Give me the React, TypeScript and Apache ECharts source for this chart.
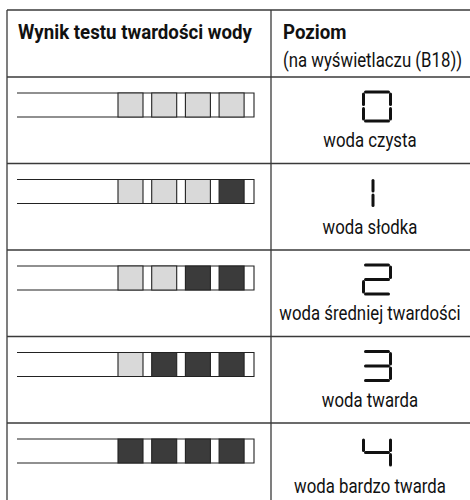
import React, { useEffect, useRef } from "react";
import * as echarts from "echarts";

// ---- data ----
const headerLeft = "Wynik testu twardości wody";
const headerRight = "Poziom";
const headerRightSub = "(na wyświetlaczu (B18))";
const levels = [0, 1, 2, 3, 4];
const descriptions = [
  "woda czysta",
  "woda słodka",
  "woda średniej twardości",
  "woda twarda",
  "woda bardzo twarda",
];
const darkPads = [0, 1, 2, 3, 4];
const padCount = 4;
const segmentCodes = ["abcdef", "bc", "abged", "abgcd", "fgbc"];

// ---- layout ----
const W = 470;
const H = 500;
const FONT = "Roboto, 'Noto Sans', sans-serif";
const SCALE_REG = 0.84;
const SCALE_BOLD = 0.89;
const LINE = "#3a3a3a";
const TABLE_LEFT = 7;
const COL_X = 271;
const TABLE_TOP = 10;
const HEADER_BOTTOM = 77;
const ROW_H = 86.5;
const STRIP_LEFT = 17;
const STRIP_RIGHT = 254;
const STRIP_OFF = 16;
const STRIP_H = 24;
const PAD_START = 118;
const PAD_PITCH = 33.7;
const PAD_W = 25;
const DIGIT_CX = 377;
const DIGIT_W = 27;
const DIGIT_H = 29;
const DIGIT_OFF = 15;
const TEXT_CX = 370;
const TEXT_OFF = 64;

export default function App() {
  const ref = useRef<HTMLDivElement>(null);
  useEffect(() => {
    document.body.style.margin = "0";
    const chart = echarts.init(ref.current!, null, { renderer: "svg" });

    const renderItem = (params: any, api: any) => {
      const idx = api.value(0);
      const level = api.value(1);
      const dark = api.value(2);
      const rowTop = HEADER_BOTTOM + idx * ROW_H;
      const c = (x: number, y: number) => api.coord([x, y]);
      const children: any[] = [];
      const p1 = c(TABLE_LEFT, rowTop);
      const p2 = c(W, rowTop);
      children.push({
        type: "line",
        shape: { x1: p1[0], y1: p1[1], x2: p2[0], y2: p2[1] },
        style: { stroke: LINE, lineWidth: 1.3 },
      });
      const sTop = c(STRIP_LEFT, rowTop + STRIP_OFF);
      const sBot = c(STRIP_RIGHT, rowTop + STRIP_OFF + STRIP_H);
      children.push({
        type: "polyline",
        shape: {
          points: [
            [sTop[0], sTop[1]],
            [sBot[0], sTop[1]],
            [sBot[0], sBot[1]],
            [sTop[0], sBot[1]],
          ],
        },
        style: { stroke: "#222", lineWidth: 1.1, fill: "none" },
      });
      for (let k = 0; k < padCount; k++) {
        const isDark = k >= padCount - dark;
        const a = c(PAD_START + k * PAD_PITCH, rowTop + STRIP_OFF);
        const sz = api.size([PAD_W, STRIP_H]);
        children.push({
          type: "rect",
          shape: { x: a[0], y: a[1], width: sz[0], height: sz[1] },
          style: {
            fill: isDark ? "#3b3b3b" : "#d9d9d9",
            stroke: "#222",
            lineWidth: 1.1,
          },
        });
      }
      const code = segmentCodes[level];
      let L = DIGIT_CX - DIGIT_W / 2;
      let R = DIGIT_CX + DIGIT_W / 2;
      if (code === "bc") {
        R = DIGIT_CX - 4;
        L = R - DIGIT_W;
      }
      const T = rowTop + DIGIT_OFF;
      const B = T + DIGIT_H;
      const M = (T + B) / 2;
      const g = 2;
      const segs: Record<string, number[]> = {
        a: [L + g, T, R - g, T],
        b: [R, T + g, R, M - g],
        c: [R, M + g, R, B - g],
        d: [L + g, B, R - g, B],
        e: [L, M + g, L, B - g],
        f: [L, T + g, L, M - g],
        g: [L + g, M, R - g, M],
      };
      for (const s of code.split("")) {
        const q = segs[s];
        const u = c(q[0], q[1]);
        const v = c(q[2], q[3]);
        children.push({
          type: "line",
          shape: { x1: u[0], y1: u[1], x2: v[0], y2: v[1] },
          style: { stroke: "#111", lineWidth: 3, lineCap: "round" },
        });
      }
      const tp = c(TEXT_CX, rowTop + TEXT_OFF);
      children.push({
        type: "text",
        x: tp[0],
        y: tp[1],
        scaleX: SCALE_REG,
        style: {
          text: descriptions[idx],
          fill: "#111",
          fontSize: 20,
          fontFamily: FONT,
          align: "center",
          verticalAlign: "middle",
        },
      });
      return { type: "group", children };
    };

    chart.setOption({
      animation: false,
      grid: { left: 0, right: 0, top: 0, bottom: 0 },
      xAxis: { type: "value", min: 0, max: W, show: false },
      yAxis: { type: "value", min: 0, max: H, inverse: true, show: false },
      graphic: [
        {
          type: "line",
          shape: { x1: TABLE_LEFT, y1: TABLE_TOP, x2: W, y2: TABLE_TOP },
          style: { stroke: LINE, lineWidth: 1.3 },
        },
        {
          type: "line",
          shape: { x1: TABLE_LEFT, y1: TABLE_TOP, x2: TABLE_LEFT, y2: H },
          style: { stroke: LINE, lineWidth: 1.3 },
        },
        {
          type: "line",
          shape: { x1: COL_X, y1: TABLE_TOP, x2: COL_X, y2: H },
          style: { stroke: LINE, lineWidth: 1.3 },
        },
        {
          type: "text",
          x: 18,
          y: 32,
          scaleX: SCALE_BOLD,
          style: {
            text: headerLeft,
            fill: "#111",
            fontSize: 21,
            fontWeight: "bold",
            fontFamily: FONT,
            align: "left",
            verticalAlign: "middle",
          },
        },
        {
          type: "text",
          x: 283,
          y: 32,
          scaleX: SCALE_BOLD,
          style: {
            text: headerRight,
            fill: "#111",
            fontSize: 21,
            fontWeight: "bold",
            fontFamily: FONT,
            align: "left",
            verticalAlign: "middle",
          },
        },
        {
          type: "text",
          x: 283,
          y: 61,
          scaleX: SCALE_REG,
          style: {
            text: headerRightSub,
            fill: "#111",
            fontSize: 20,
            fontFamily: FONT,
            align: "left",
            verticalAlign: "middle",
          },
        },
      ],
      series: [
        {
          type: "custom",
          renderItem,
          clip: false,
          data: levels.map((lv, i) => [i, lv, darkPads[i]]),
        },
      ],
    });
    return () => chart.dispose();
  }, []);
  return <div ref={ref} style={{ width: W, height: H }} />;
}
